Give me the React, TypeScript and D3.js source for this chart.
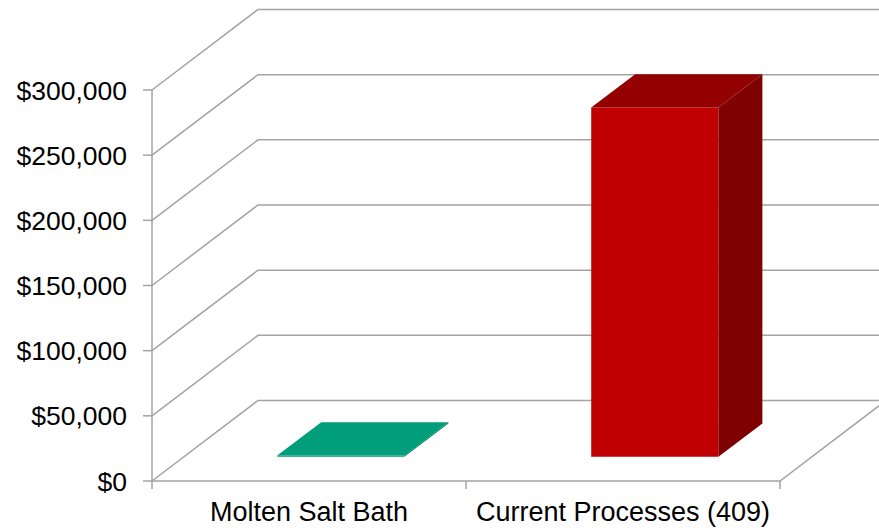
import React, { useEffect, useRef } from "react";
import * as d3 from "d3";

const categories = ["Molten Salt Bath", "Current Processes (409)"];
const costs = [1000, 268000];
const yTicks = [0, 50000, 100000, 150000, 200000, 250000, 300000];

// front, top, side colours per bar
const barColors = [
  { front: "#009977", top: "#009E7A", side: "#007A5E" },
  { front: "#C00000", top: "#920000", side: "#7E0000" },
];

const App: React.FC = () => {
  const svgRef = useRef<SVGSVGElement>(null);

  useEffect(() => {
    const width = 879;
    const height = 528;
    const depthX = 106;
    const depthY = -80.5;
    const barFront = 0.3;
    const barBack = 0.715;

    const svg = d3.select(svgRef.current);
    svg.selectAll("*").remove();
    svg.attr("width", width).attr("height", height);

    const y = d3.scaleLinear().domain([0, 300000]).range([481, 90]);
    const x = d3
      .scaleBand<string>()
      .domain(categories)
      .range([152, 780])
      .paddingInner(0)
      .paddingOuter(0);

    const fmt = (v: number) => "$" + d3.format(",")(v);
    const grid = "#a3a3a3";

    // back wall + left wall gridlines
    yTicks.forEach((t) => {
      const yy = y(t);
      svg
        .append("polyline")
        .attr(
          "points",
          `${x.range()[0]},${yy} ${x.range()[0] + depthX},${yy + depthY} ${
            x.range()[1] + depthX
          },${yy + depthY}`
        )
        .attr("fill", "none")
        .attr("stroke", grid)
        .attr("stroke-width", 1.5);
    });

    // floor edges
    const x0 = x.range()[0];
    const x1 = x.range()[1];
    svg
      .append("polyline")
      .attr(
        "points",
        `${x0},${y(0)} ${x1},${y(0)} ${x1 + depthX},${y(0) + depthY}`
      )
      .attr("fill", "none")
      .attr("stroke", grid)
      .attr("stroke-width", 1.5);

    // y axis line + ticks
    svg
      .append("line")
      .attr("x1", x0)
      .attr("x2", x0)
      .attr("y1", y(300000))
      .attr("y2", y(0))
      .attr("stroke", grid)
      .attr("stroke-width", 1.5);

    yTicks.forEach((t) => {
      svg
        .append("line")
        .attr("x1", x0 - 9)
        .attr("x2", x0)
        .attr("y1", y(t))
        .attr("y2", y(t))
        .attr("stroke", grid)
        .attr("stroke-width", 1.5);
      svg
        .append("text")
        .attr("x", 127)
        .attr("y", y(t))
        .attr("dy", "0.36em")
        .attr("text-anchor", "end")
        .attr("font-family", "Liberation Sans, Arial, sans-serif")
        .attr("font-size", "26.5px")
        .attr("fill", "#000")
        .text(fmt(t));
    });

    // category ticks
    const catEdges = [...categories.map((c) => x(c) as number), x1];
    catEdges.forEach((cx) => {
      svg
        .append("line")
        .attr("x1", cx)
        .attr("x2", cx)
        .attr("y1", y(0))
        .attr("y2", y(0) + 8)
        .attr("stroke", grid)
        .attr("stroke-width", 1.5);
    });

    categories.forEach((c) => {
      svg
        .append("text")
        .attr("x", (x(c) as number) + x.bandwidth() / 2)
        .attr("y", 521)
        .attr("text-anchor", "middle")
        .attr("font-family", "Liberation Sans, Arial, sans-serif")
        .attr("font-size", "27px")
        .attr("fill", "#000")
        .text(c);
    });

    // 3D bars
    const barW = x.bandwidth() * 0.405;
    const p = (px: number, v: number, f: number) =>
      `${px + f * depthX},${y(v) + f * depthY}`;

    categories.forEach((c, i) => {
      const v = costs[i];
      const cx = (x(c) as number) + x.bandwidth() / 2;
      const bl = cx - barW / 2;
      const br = cx + barW / 2;
      const col = barColors[i];
      const g = svg.append("g");

      g.append("polygon")
        .attr(
          "points",
          [p(bl, 0, barFront), p(br, 0, barFront), p(br, v, barFront), p(bl, v, barFront)].join(" ")
        )
        .attr("fill", col.front);

      g.append("polygon")
        .attr(
          "points",
          [p(br, 0, barFront), p(br, v, barFront), p(br, v, barBack), p(br, 0, barBack)].join(" ")
        )
        .attr("fill", col.side);

      g.append("polygon")
        .attr(
          "points",
          [p(bl, v, barFront), p(br, v, barFront), p(br, v, barBack), p(bl, v, barBack)].join(" ")
        )
        .attr("fill", col.top);
    });
  }, []);

  return (
    <svg
      ref={svgRef}
      style={{ position: "absolute", left: 0, top: 0, background: "#fff" }}
    ></svg>
  );
};

export default App;
